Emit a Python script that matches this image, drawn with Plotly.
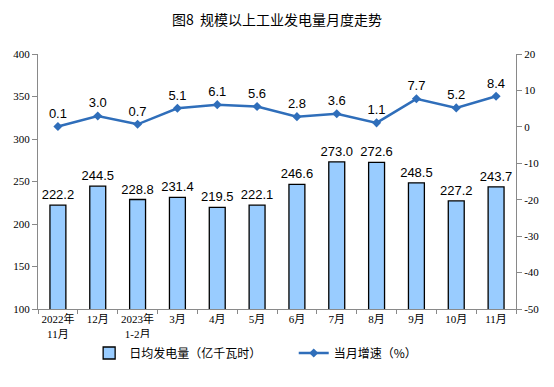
import plotly.graph_objects as go

categories = ["2022年<br>11月", "12月", "2023年<br>1-2月", "3月", "4月", "5月", "6月", "7月", "8月", "9月", "10月", "11月"]
daily_output = [222.2, 244.5, 228.8, 231.4, 219.5, 222.1, 246.6, 273.0, 272.6, 248.5, 227.2, 243.7]
growth = [0.1, 3.0, 0.7, 5.1, 6.1, 5.6, 2.8, 3.6, 1.1, 7.7, 5.2, 8.4]
left_ticks = [100, 150, 200, 250, 300, 350, 400]
right_ticks = [-50, -40, -30, -20, -10, 0, 10, 20]

bar_name = "日均发电量（亿千瓦时）"
line_name = "当月增速（%）"

fig = go.Figure()
fig.add_trace(go.Bar(
    x=categories, y=daily_output, name=bar_name,
    marker=dict(color="#99CCFF", line=dict(color="#000000", width=1.3)),
    text=[f"{v:.1f}" for v in daily_output], textposition="outside",
    constraintext="none",
    textfont=dict(family="Liberation Sans, Arial", size=13, color="#000000"),
    cliponaxis=False, yaxis="y", legend="legend"
))
fig.add_trace(go.Scatter(
    x=categories, y=growth, name=line_name, mode="lines+markers+text",
    line=dict(color="#2F6EBA", width=2.5),
    marker=dict(symbol="diamond", size=7, color="#2F6EBA"),
    text=[f"{v:.1f}" for v in growth], textposition="top center",
    textfont=dict(family="Liberation Sans, Arial", size=13, color="#000000"),
    cliponaxis=False, yaxis="y2", legend="legend2"
))

tickfont = dict(family="Liberation Serif, Noto Sans CJK SC", size=11, color="#000000")
legfont = dict(family="Noto Sans CJK SC", size=12, color="#000000")
fig.update_layout(
    width=554, height=387,
    margin=dict(l=38, r=38, t=54, b=78, autoexpand=False),
    paper_bgcolor="white", plot_bgcolor="white",
    title=dict(text="图8  规模以上工业发电量月度走势", x=0.5, xanchor="center", y=0.948, yanchor="middle",
               font=dict(family="Noto Sans CJK SC", size=14, color="#000000")),
    bargap=0.6,
    showlegend=True,
    legend=dict(orientation="h", x=0.107, xanchor="left", y=-0.1725, yanchor="middle", font=legfont,
                itemwidth=30),
    legend2=dict(orientation="h", x=0.535, xanchor="left", y=-0.1725, yanchor="middle", font=legfont,
                 itemwidth=30),
    xaxis=dict(range=[-0.5, len(categories) - 0.5], autorange=False,
               showline=True, linecolor="#898989", linewidth=1, ticks="outside", ticklen=4,
               tickcolor="#898989", tickson="boundaries", tickfont=tickfont, showgrid=False,
               tickangle=0, automargin=False),
    yaxis=dict(range=[100, 400], tickvals=left_ticks, ticktext=[str(v) for v in left_ticks],
               showline=True, linecolor="#898989", ticks="outside", automargin=False,
               ticklen=5, tickcolor="#898989", tickfont=tickfont, showgrid=False, zeroline=False),
    yaxis2=dict(range=[-50, 20], tickvals=right_ticks, ticktext=[str(v) for v in right_ticks],
                overlaying="y", side="right", showline=True, automargin=False,
                linecolor="#898989", ticks="outside", ticklen=5, tickcolor="#898989",
                tickfont=tickfont, showgrid=False, zeroline=False),
)
fig.write_html("out.html", config={"displayModeBar": False},
               post_script="document.body.style.margin='0';")
